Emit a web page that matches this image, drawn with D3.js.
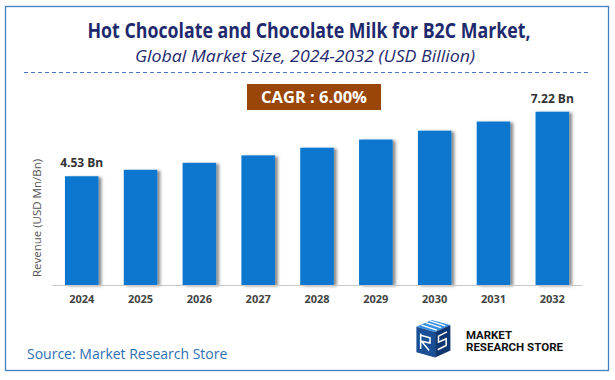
<!DOCTYPE html>
<html>
<head>
<meta charset="utf-8">
<script src="https://cdn.jsdelivr.net/npm/d3@7"></script>
<style>
  body { margin: 0; background: #fff; }
  svg { display: block; font-family: "Open Sans", "Liberation Sans", sans-serif; }
</style>
</head>
<body>
<svg id="chart" width="615" height="380"></svg>
<script>
// chart data
var years = ["2024", "2025", "2026", "2027", "2028", "2029", "2030", "2031", "2032"];
var revenue = [4.53, 4.80, 5.09, 5.40, 5.72, 6.06, 6.43, 6.81, 7.22];
var labelled = {"2024": "4.53 Bn", "2032": "7.22 Bn"};
var cagr = "CAGR : 6.00%";

var svg = d3.select("#chart");

var defs = svg.append("defs");
var shadow = defs.append("filter").attr("id", "shadow")
    .attr("x", "-20%").attr("y", "-10%").attr("width", "160%").attr("height", "130%");
shadow.append("feDropShadow")
    .attr("dx", 3).attr("dy", 1).attr("stdDeviation", 1.6)
    .attr("flood-color", "#000").attr("flood-opacity", 0.45);

// frame
svg.append("rect")
    .attr("x", 5.5).attr("y", 6.5).attr("width", 603).attr("height", 364)
    .attr("fill", "none").attr("stroke", "#3f7fc4").attr("stroke-width", 1.3);

// titles
svg.append("text")
    .attr("x", 309).attr("y", 38)
    .attr("text-anchor", "middle")
    .attr("font-family", "'Open Sans', sans-serif")
    .attr("font-weight", "bold").attr("font-size", 20.5)
    .attr("fill", "#1f2a6e")
    .attr("textLength", 443).attr("lengthAdjust", "spacingAndGlyphs")
    .text("Hot Chocolate and Chocolate Milk for B2C Market,");

svg.append("text")
    .attr("x", 305).attr("y", 62)
    .attr("text-anchor", "middle")
    .attr("font-style", "italic").attr("font-size", 15.5)
    .attr("fill", "#1f2a6e")
    .attr("textLength", 340).attr("lengthAdjust", "spacingAndGlyphs")
    .text("Global Market Size, 2024-2032 (USD Billion)");

svg.append("line")
    .attr("x1", 24).attr("x2", 590).attr("y1", 72.5).attr("y2", 72.5)
    .attr("stroke", "#4a78c0").attr("stroke-width", 1)
    .attr("stroke-dasharray", "4,3");

// scales
var x = d3.scaleBand().domain(years).range([52, 582]).paddingInner(0.43).paddingOuter(0.22);
var y = d3.scaleLinear().domain([0, 10]).range([285, 45]);

// bars
svg.append("g").selectAll("rect")
    .data(years)
    .enter().append("rect")
    .attr("x", d => x(d))
    .attr("y", (d, i) => y(revenue[i]))
    .attr("width", x.bandwidth())
    .attr("height", (d, i) => y(0) - y(revenue[i]))
    .attr("fill", "#0777cf")
    .attr("filter", "url(#shadow)");

// axis
var xAxis = svg.append("g")
    .attr("transform", "translate(0," + y(0) + ")")
    .call(d3.axisBottom(x).tickSize(0).tickPadding(10));
xAxis.select(".domain").attr("stroke", "#c8c8c8").attr("stroke-width", 1.2);
xAxis.selectAll("text")
    .attr("font-family", "'Open Sans', sans-serif")
    .attr("font-weight", "bold").attr("font-size", 11)
    .attr("fill", "#444");

// value labels
svg.append("g").selectAll("text")
    .data(years.filter(d => labelled[d]))
    .enter().append("text")
    .attr("x", d => x(d) + x.bandwidth() / 2)
    .attr("y", d => y(revenue[years.indexOf(d)]) - 9)
    .attr("text-anchor", "middle")
    .attr("font-weight", "bold").attr("font-size", 12)
    .attr("fill", "#333")
    .text(d => labelled[d]);

// y label
svg.append("text")
    .attr("transform", "translate(41,218) rotate(-90)")
    .attr("text-anchor", "middle")
    .attr("font-size", 11.5)
    .attr("fill", "#555")
    .text("Revenue (USD Mn/Bn)");

// CAGR badge
svg.append("rect")
    .attr("x", 247).attr("y", 84).attr("width", 134).attr("height", 26)
    .attr("fill", "#9a4608");
svg.append("text")
    .attr("x", 314).attr("y", 103)
    .attr("text-anchor", "middle")
    .attr("font-weight", "bold").attr("font-size", 16.5)
    .attr("fill", "#fff")
    .text(cagr);

// source
svg.append("text")
    .attr("x", 27).attr("y", 359)
    .attr("font-size", 14)
    .attr("fill", "#2e6fb5")
    .text("Source: Market Research Store");

// logo
var logo = svg.append("g").attr("transform", "translate(413,320) scale(0.85)");
logo.append("path").attr("d", "M4,8 L22,0 L44,6 L26,14 Z").attr("fill", "#3a8ee0");
logo.append("path").attr("d", "M4,8 L26,14 L26,44 L4,38 Z").attr("fill", "#1a4f95");
logo.append("path").attr("d", "M26,14 L44,6 L44,36 L26,44 Z").attr("fill", "#0e3670");
logo.append("path").attr("d", "M10,6 L28,12 M15,3 L33,9 M20,1 L38,7")
    .attr("stroke", "#fff").attr("stroke-width", 1.5).attr("fill", "none");
logo.append("path").attr("d", "M9,16 L9,34 M9,18 L20,21 L20,27 L10,25 L19,36")
    .attr("stroke", "#fff").attr("stroke-width", 1.8).attr("fill", "none");
logo.append("path").attr("d", "M40,14 L30,19 L30,26 L39,22 L39,30 L29,35")
    .attr("stroke", "#fff").attr("stroke-width", 1.8).attr("fill", "none");

var brand = svg.append("g").attr("transform", "translate(466,0)");
brand.append("text")
    .attr("x", 0).attr("y", 339)
    .attr("font-family", "'Roboto', sans-serif")
    .attr("font-weight", "bold").attr("font-size", 11)
    .attr("fill", "#111")
    .attr("textLength", 46).attr("lengthAdjust", "spacingAndGlyphs")
    .text("MARKET");
brand.append("text")
    .attr("x", 0).attr("y", 350.5)
    .attr("font-family", "'Roboto', sans-serif")
    .attr("font-weight", "bold").attr("font-size", 11)
    .attr("fill", "#111")
    .attr("textLength", 97).attr("lengthAdjust", "spacingAndGlyphs")
    .text("RESEARCH STORE");
</script>
</body>
</html>
